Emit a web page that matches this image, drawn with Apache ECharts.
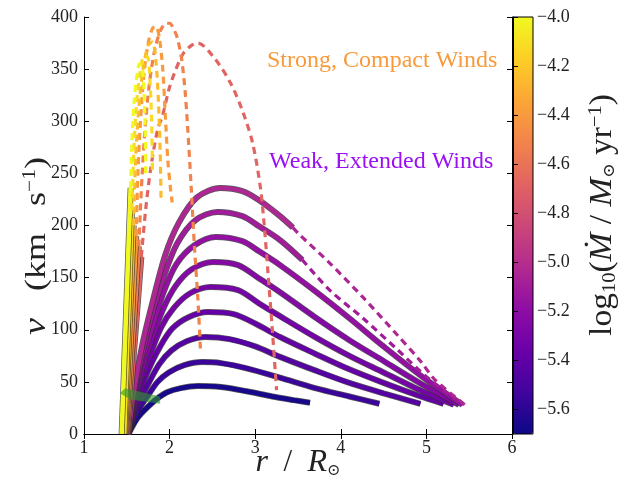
<!DOCTYPE html>
<html>
<head>
<meta charset="utf-8">
<script src="https://cdn.jsdelivr.net/npm/echarts@6/dist/echarts.min.js"></script>
<style>
  html, body { margin: 0; padding: 0; background: #fff; }
  #chart { width: 627px; height: 478px; }
</style>
</head>
<body>
<div id="chart"></div>
<script>
// Wind velocity profiles v(r), coloured by log10 mass-loss rate.

// Axis ticks
const rTicks = [1, 2, 3, 4, 5, 6];
const vTicks = [0, 50, 100, 150, 200, 250, 300, 350, 400];
const cbarTicks = [-5.6, -5.4, -5.2, -5.0, -4.8, -4.6, -4.4, -4.2, -4.0];
const cbarMin = -5.7;
const cbarMax = -4.0;

// Weak, extended winds: log10 Mdot for each profile
const weakLogMdot = [-5.67, -5.55, -5.45, -5.38, -5.31, -5.24, -5.17, -5.10, -5.04];

// Weak winds, solid part of each profile [r, v]
const weakSolid = [
  [[1.52,0],[1.57,8],[1.64,17],[1.72,24],[1.84,33],[1.97,40],[2.13,44],[2.33,46],[2.6,45],[2.9,41],[3.2,36],[3.45,32.5],[3.64,30]],
  [[1.52,0],[1.57,12],[1.65,25],[1.74,36],[1.86,50],[1.99,59],[2.17,66],[2.38,69],[2.6,68],[2.9,63],[3.29,54],[3.7,44],[4.1,36],[4.45,29]],
  [[1.52,0],[1.57,16],[1.66,34],[1.75,48],[1.88,67],[2.02,80],[2.2,89],[2.42,93],[2.7,91],[3.0,84],[3.29,74],[3.7,61],[4.1,49],[4.5,39],[4.93,29]],
  [[1.52,0],[1.58,20],[1.66,42],[1.75,61],[1.89,84],[2.03,101],[2.22,112],[2.45,117],[2.75,115],[3.0,106],[3.29,93],[3.7,77],[4.1,62],[4.5,49],[4.9,37],[5.2,29]],
  [[1.52,0],[1.58,24],[1.66,51],[1.76,73],[1.9,102],[2.05,121],[2.24,135],[2.48,141],[2.8,138],[3.05,125],[3.29,113],[3.7,93],[4.1,75],[4.5,59],[4.9,43],[5.32,28]],
  [[1.52,0],[1.58,28],[1.67,59],[1.77,86],[1.92,119],[2.07,142],[2.26,158],[2.51,165],[2.8,162],[3.05,149],[3.29,136],[3.7,112],[4.1,90],[4.5,70],[4.9,50],[5.38,28]],
  [[1.52,0],[1.58,32],[1.67,68],[1.78,98],[1.93,136],[2.08,163],[2.29,181],[2.54,189],[2.85,185],[3.05,175],[3.29,162],[3.7,137],[4.1,111],[4.5,84],[4.95,55],[5.42,28]],
  [[1.52,0],[1.58,36],[1.68,77],[1.78,111],[1.94,153],[2.09,183],[2.3,205],[2.56,213],[2.85,209],[3.05,199],[3.29,186],[3.55,167]],
  [[1.52,0],[1.58,40],[1.68,85],[1.79,123],[1.95,172],[2.11,203],[2.32,227],[2.59,236],[2.85,233],[3.05,224],[3.29,209],[3.44,198]]
];

// Weak winds, dashed continuation (only the two fastest profiles)
const weakDashed = [
  null, null, null, null, null, null, null,
  [[3.55,167],[3.87,138],[4.26,111],[4.66,81],[5.0,55],[5.43,28]],
  [[3.44,198],[3.52,191],[3.87,164],[4.26,131],[4.66,95],[4.93,70],[5.1,52],[5.45,28]]
];

// Strong, compact winds: log10 Mdot for each profile
const strongLogMdot = [-4.0, -4.12, -4.25, -4.4, -4.52, -4.68];

// Strong winds, steep solid base [r, v]
const strongSolid = [
  [[1.44,0],[1.545,236]],
  [[1.47,0],[1.56,215]],
  [[1.48,0],[1.58,200]],
  [[1.49,0],[1.61,190]],
  [[1.50,0],[1.64,180]],
  [[1.51,0],[1.67,170]]
];

// Strong winds, dashed upper branch [r, v]
const strongDashed = [
  [[1.545,236],[1.56,280],[1.585,318],[1.615,342],[1.65,355],[1.68,352],[1.70,330],[1.715,290],[1.72,250]],
  [[1.56,215],[1.58,268],[1.61,313],[1.65,344],[1.70,362],[1.74,362],[1.77,340],[1.79,300],[1.80,250]],
  [[1.58,200],[1.60,258],[1.64,312],[1.69,350],[1.75,373],[1.80,376],[1.84,358],[1.87,318],[1.89,270],[1.90,225]],
  [[1.61,190],[1.63,250],[1.66,300],[1.70,345],[1.75,375],[1.80,389],[1.84,391],[1.88,380],[1.92,350],[1.95,305],[1.98,262],[2.01,236],[2.03,222]],
  [[1.64,180],[1.68,250],[1.72,300],[1.77,340],[1.83,370],[1.90,388],[1.96,394],[2.0,394],[2.05,388],[2.09,380],[2.14,360],[2.18,330],[2.21,295],[2.25,240],[2.29,180],[2.33,130],[2.36,82]],
  [[1.67,170],[1.72,215],[1.78,255],[1.86,292],[1.92,306],[1.99,330],[2.06,347],[2.16,365],[2.26,373],[2.33,375],[2.51,362],[2.71,337],[2.86,308],[2.97,279],[3.06,237],[3.11,196],[3.15,154],[3.2,100],[3.25,42]]
];

// Shaded green region near the base [r, v]
const greenRegion = [[1.42,39],[1.48,44],[1.89,36],[1.89,29],[1.54,33]];

const PLASMA = ['#0d0887','#41049d','#6a00a8','#8f0da4','#b12a90','#cc4778',
                '#e16462','#f2844b','#fca636','#fcce25','#f0f921'];
function plasma(m) {
  const t = Math.min(1, Math.max(0, (m - cbarMin) / (cbarMax - cbarMin)));
  return echarts.color.lerp(t, PLASMA);
}

const FONT = "'Liberation Serif', 'DejaVu Serif', serif";
const TXT = '#222';

function lineSeries(data, color, width, dashed) {
  return {
    type: 'line', data: data, xAxisIndex: 0, yAxisIndex: 0,
    symbol: 'none', smooth: 0.3, silent: true, animation: false,
    emphasis: { disabled: true },
    lineStyle: { color: color, width: width, type: dashed ? [7, 5] : 'solid' }
  };
}

const EDGE = 'rgba(45,45,45,0.8)';
const series = [];
// weak solid profiles with dark edge
weakSolid.forEach((d, i) => {
  series.push(lineSeries(d, EDGE, 6, false));
  series.push(lineSeries(d, plasma(weakLogMdot[i]), 4.6, false));
});
// strong solid bases
for (let i = strongSolid.length - 1; i >= 0; i--) {
  series.push(lineSeries(strongSolid[i], EDGE, 6, false));
  series.push(lineSeries(strongSolid[i], plasma(strongLogMdot[i]), 4.6, false));
}
// dashed continuations
weakDashed.forEach((d, i) => {
  if (d) series.push(lineSeries(d, plasma(weakLogMdot[i]), 3.2, true));
});
for (let i = strongDashed.length - 1; i >= 0; i--) {
  series.push(lineSeries(strongDashed[i], plasma(strongLogMdot[i]), 3.2, true));
}
// green shaded region (drawn once, from all its vertices), above the profiles
series.push({
  type: 'custom', xAxisIndex: 0, yAxisIndex: 0, silent: true, animation: false,
  data: greenRegion, clip: false, z: 6,
  renderItem: function (params, api) {
    if (params.dataIndex !== 0) return null;
    return {
      type: 'polygon',
      shape: { points: greenRegion.map(p => api.coord(p)) },
      style: { fill: 'rgba(46,150,46,0.62)' }
    };
  }
});
// anchor series for the colour bar
const cbarSeriesIndex = series.length;
series.push({ type: 'scatter', xAxisIndex: 2, yAxisIndex: 2, data: [], silent: true });

const axisLineStyle = { lineStyle: { color: '#000', width: 1 } };
const labelStyle = { color: TXT, fontFamily: FONT, fontSize: 18 };

const richItalic = { fontFamily: FONT, fontStyle: 'italic', fill: TXT };

const option = {
  backgroundColor: '#fff',
  animation: false,
  grid: [
    { left: 84, top: 17, width: 428, height: 417, outerBoundsMode: 'none', containLabel: false },
    { left: 513, top: 17, width: 20, height: 417, outerBoundsMode: 'none', containLabel: false,
      show: true, borderColor: '#000', borderWidth: 1, backgroundColor: 'transparent', z: 10 }
  ],
  xAxis: [
    { type: 'value', gridIndex: 0, position: 'bottom', min: rTicks[0], max: rTicks[rTicks.length - 1], interval: 1,
      axisLine: axisLineStyle, axisTick: { inside: true, length: 5, lineStyle: { color: '#000' } },
      axisLabel: Object.assign({ margin: 5 }, labelStyle), splitLine: { show: false } },
    { type: 'value', gridIndex: 0, position: 'top', min: rTicks[0], max: rTicks[rTicks.length - 1], interval: 1,
      axisLine: axisLineStyle, axisTick: { inside: true, length: 5, lineStyle: { color: '#000' } },
      axisLabel: { show: false }, splitLine: { show: false } },
    { type: 'value', gridIndex: 1, min: 0, max: 1, show: false }
  ],
  yAxis: [
    { type: 'value', gridIndex: 0, position: 'left', min: vTicks[0], max: vTicks[vTicks.length - 1], interval: 50,
      axisLine: Object.assign({ show: true }, axisLineStyle), axisTick: { show: true, inside: true, length: 5, lineStyle: { color: '#000' } },
      axisLabel: Object.assign({ margin: 6 }, labelStyle), splitLine: { show: false } },
    { type: 'value', gridIndex: 0, position: 'right', min: vTicks[0], max: vTicks[vTicks.length - 1], interval: 50,
      axisLine: Object.assign({ show: true }, axisLineStyle), axisTick: { show: true, inside: true, length: 5, lineStyle: { color: '#000' } },
      axisLabel: { show: false }, splitLine: { show: false } },
    { type: 'value', gridIndex: 1, position: 'right', min: cbarMin, max: cbarMax,
      axisLine: Object.assign({ show: true }, axisLineStyle),
      axisTick: { show: true, inside: false, length: 5, customValues: cbarTicks, lineStyle: { color: '#000' } },
      axisLabel: Object.assign({ margin: 4, customValues: cbarTicks,
        formatter: v => v.toFixed(1).replace('-', '\u2212') }, labelStyle),
      splitLine: { show: false }, z: 10 }
  ],
  visualMap: {
    type: 'continuous', seriesIndex: cbarSeriesIndex, min: cbarMin, max: cbarMax,
    orient: 'vertical', left: 513, top: 17, itemWidth: 20, itemHeight: 417, padding: 0,
    calculable: false, showLabel: false, hoverLink: false,
    inRange: { color: PLASMA }
  },
  graphic: [
    { type: 'text', left: 267, top: 49, silent: true,
      style: { text: 'Strong, Compact Winds', fill: '#f89a3c', font: "24px 'Liberation Serif', serif" } },
    { type: 'text', left: 269, top: 150, silent: true,
      style: { text: 'Weak, Extended Winds', fill: '#9a10f2', font: "24px 'Liberation Serif', serif" } },
    // radius axis title
    { type: 'text', x: 298, y: 463, silent: true,
      style: { text: '{i|r}  /  {i|R}{sub|⊙}', fill: TXT, font: "31px 'Liberation Serif', serif",
        align: 'center', verticalAlign: 'middle',
        rich: { i: Object.assign({ fontSize: 32 }, richItalic),
                sub: { fontFamily: "'DejaVu Serif', serif", fontSize: 16, fill: TXT, padding: [16, 0, 0, 0] } } } },
    // velocity axis title, read bottom to top
    { type: 'text', x: 37, y: 246, rotation: Math.PI / 2, scaleX: 1.2, silent: true,
      style: { text: '{i|v}   (km   s{sup|−1})', fill: TXT, font: "30px 'Liberation Serif', serif",
        align: 'center', verticalAlign: 'middle',
        rich: { i: Object.assign({ fontSize: 32 }, richItalic),
                sup: { fontFamily: FONT, fontSize: 18, fill: TXT, padding: [0, 0, 14, 0] } } } },
    // colour bar title, read bottom to top
    { type: 'text', x: 603, y: 215, rotation: Math.PI / 2, scaleX: 1.08, silent: true,
      style: { text: 'log{sub|10}({i|Ṁ} / {i|M}{osub|⊙} yr{sup|−1})', fill: TXT, font: "31px 'Liberation Serif', serif",
        align: 'center', verticalAlign: 'middle',
        rich: { i: Object.assign({ fontSize: 32 }, richItalic),
                sub: { fontFamily: FONT, fontSize: 19, fill: TXT, padding: [14, 0, 0, 0] },
                osub: { fontFamily: "'DejaVu Serif', serif", fontSize: 16, fill: TXT, padding: [14, 0, 0, 0] },
                sup: { fontFamily: FONT, fontSize: 19, fill: TXT, padding: [0, 0, 14, 0] } } } }
  ],
  series: series
};

const chart = echarts.init(document.getElementById('chart'), null, { renderer: 'canvas' });
chart.setOption(option);
</script>
</body>
</html>
